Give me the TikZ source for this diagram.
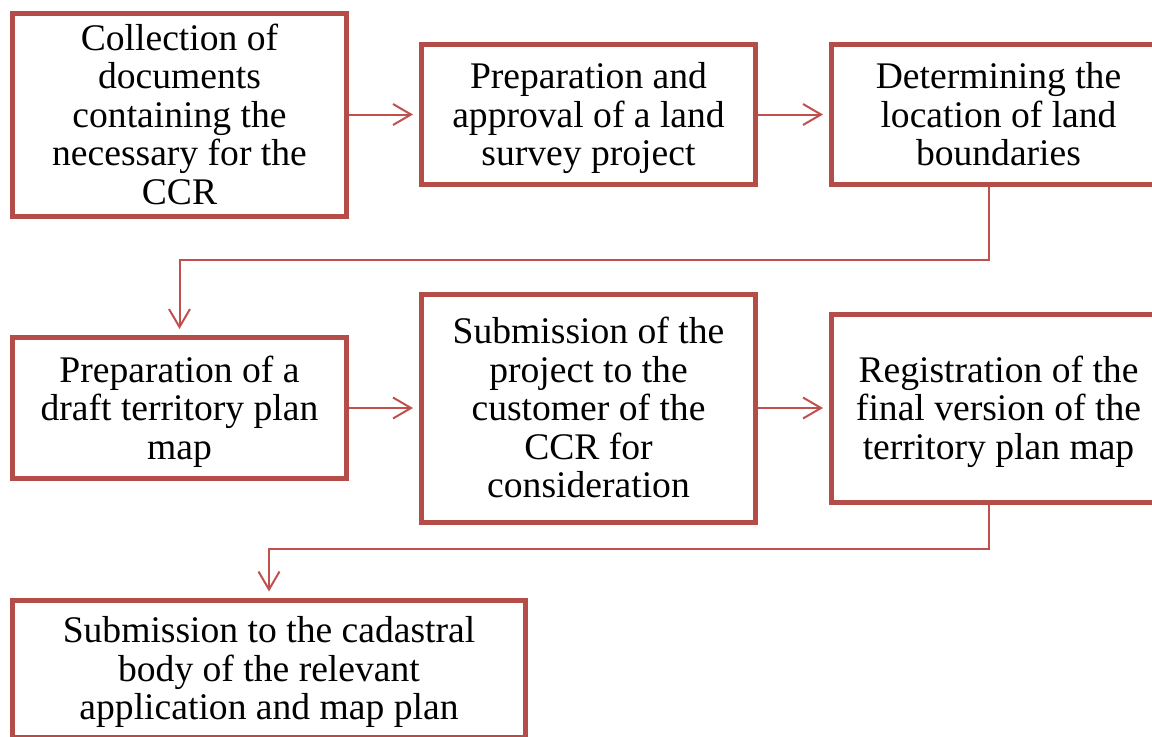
\documentclass[tikz,border=0pt]{standalone}
\usepackage{fontspec}
\setmainfont{Liberation Serif}
\usepackage{xcolor}
\usepackage{tikz}
\usetikzlibrary{arrows.meta,positioning}
\definecolor{boxred} {RGB}{180,76,72}
\definecolor{linered}{RGB}{192,80,77}
\newcommand{\stagefont}{\fontsize{18.8}{19.25}\selectfont}
\newcommand{\stagetop}{\rule{0pt}{17pt}}
\newcommand{\stagebottom}{\rule[-4.2pt]{0pt}{4.2pt}}
\tikzset{
  stagebox/.style={draw=boxred, line width=2.5pt, align=flush center,
                   text width=#1, inner xsep=4pt, inner ysep=1pt,
                   font=\stagefont,
                   execute at begin node=\stagetop,
                   execute at end node=\stagebottom},
  stagebox/.default=159pt,
  arr/.style     ={-{Straight Barb[length=9pt, width=10.5pt]},
                   draw=linered, line width=1pt, shorten >=3pt},
}

\begin{document}
\begin{tikzpicture}
  \useasboundingbox (0,0) rectangle (576pt,-368pt);

  % first row
  \node[stagebox, minimum height=101.5pt] (collect) at (89.75pt,-57.25pt)
        {Collection of\\documents\\containing the\\necessary for the\\CCR};
  \node[stagebox, minimum height=70pt, right=35pt of collect] (approve)
        {Preparation and\\approval of a land\\survey project};
  \node[stagebox, minimum height=70pt, right=35.5pt of approve] (bounds)
        {Determining the\\location of land\\boundaries};

  % second row
  \node[stagebox, minimum height=70.5pt, below=58.25pt of collect] (draft)
        {Preparation of a\\draft territory plan\\map};
  \node[stagebox, minimum height=114pt, right=35pt of draft] (submit)
        {Submission of the\\project to the\\customer of the\\CCR for\\consideration};
  \node[stagebox, minimum height=94pt, right=35.5pt of submit] (register)
        {Registration of the\\final version of the\\territory plan map};

  % last step
  \node[stagebox=248.5pt, minimum height=68.5pt,
        below=58.25pt of draft.south west, anchor=north west] (cadastre)
        {Submission to the cadastral\\body of the relevant\\application and map plan};

  \draw[arr] (collect)  -- (approve);
  \draw[arr] (approve)  -- (bounds);
  \draw[arr] ([xshift=-4.75pt]bounds.south) -- ++(0,-36.5pt) -| (draft.north);
  \draw[arr] (draft)    -- (submit);
  \draw[arr] (submit)   -- (register);
  \draw[arr] ([xshift=-4.75pt]register.south) -- ++(0,-22pt) -| (cadastre.north);
\end{tikzpicture}
\end{document}
